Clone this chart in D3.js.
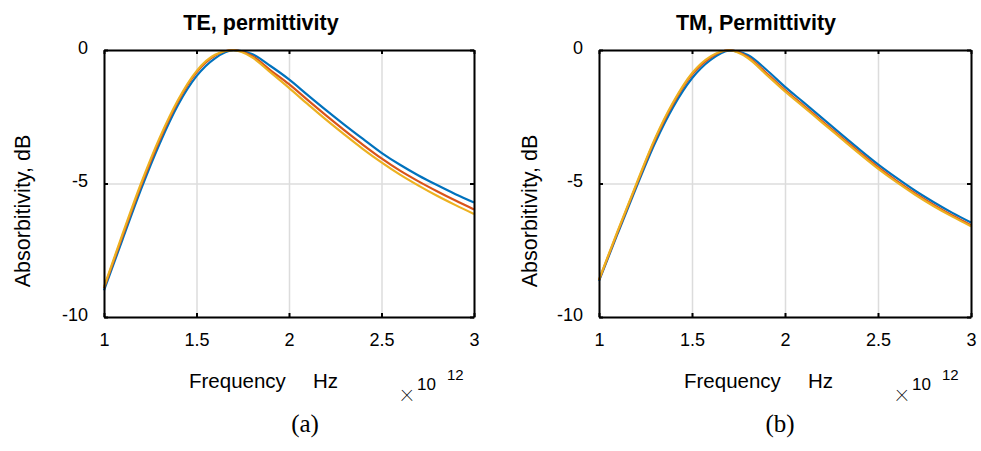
<!DOCTYPE html>
<html>
<head>
<meta charset="utf-8">
<script src="https://cdn.jsdelivr.net/npm/d3@7"></script>
<style>
    body { margin: 0; background: #fff; }
    svg { display: block; }
    text { font-family: "Liberation Sans", Arial, sans-serif; fill: #000; }
    .grid line { stroke: #dcdcdc; stroke-width: 1.5; }
    .grid path { display: none; }
    .frame path, .frame line { stroke: #000; stroke-width: 2; }
</style>
</head>
<body>
<svg id="chart"></svg>
<script>
// Frequency samples (x 10^12 Hz)
let freq = [1.0, 1.1, 1.2, 1.3, 1.4, 1.5, 1.6, 1.7, 1.8, 1.9, 2.0,
            2.1, 2.2, 2.3, 2.4, 2.5, 2.6, 2.7, 2.8, 2.9, 3.0];

// TE, permittivity (dB)
let teBlue   = [-9.0, -7.1, -5.22, -3.52, -2.06, -0.98, -0.31, -0.01, -0.15, -0.6, -1.1,
                -1.68, -2.25, -2.8, -3.33, -3.85, -4.3, -4.7, -5.06, -5.4, -5.71];
let teRed    = [-8.92, -6.97, -5.08, -3.38, -1.93, -0.84, -0.21, 0, -0.22, -0.76, -1.28,
                -1.87, -2.45, -3.01, -3.55, -4.06, -4.52, -4.92, -5.29, -5.64, -5.97];
let teOrange = [-8.87, -6.9, -5.0, -3.3, -1.87, -0.79, -0.18, -0.01, -0.27, -0.84, -1.42,
                -2.02, -2.61, -3.17, -3.71, -4.21, -4.67, -5.08, -5.46, -5.81, -6.14];

// TM, permittivity (dB)
let tmBlue   = [-8.65, -6.88, -5.15, -3.5, -2.12, -1.06, -0.37, -0.02, -0.19, -0.74, -1.38,
                -1.96, -2.55, -3.14, -3.72, -4.28, -4.79, -5.27, -5.7, -6.1, -6.46];
let tmRed    = [-8.62, -6.82, -5.07, -3.38, -1.99, -0.92, -0.28, 0, -0.26, -0.86, -1.5,
                -2.08, -2.67, -3.25, -3.83, -4.39, -4.9, -5.37, -5.8, -6.2, -6.56];
let tmOrange = [-8.6, -6.78, -5.03, -3.33, -1.94, -0.87, -0.24, -0.01, -0.3, -0.92, -1.55,
                -2.13, -2.72, -3.3, -3.88, -4.44, -4.95, -5.42, -5.85, -6.24, -6.6];

// Ticks and labels
let xTicks = [1, 1.5, 2, 2.5, 3];
let xTickLabels = ['1', '1.5', '2', '2.5', '3'];
let yTicks = [0, -5, -10];
let yTickLabels = ['0', '-5', '-10'];
let titles = ['TE, permittivity', 'TM, Permittivity'];
let captions = ['(a)', '(b)'];
let colors = ['#0072bd', '#d95319', '#edb120'];

// Canvas
let width = 981;
let height = 451;
let plotTop = 50;
let plotHeight = 267;

let svg = d3.select('#chart')
    .attr('width', width)
    .attr('height', height);

let panels = [
    { left: 104, w: 370, title: titles[0], caption: captions[0], capX: 305, yLabX: 30,
      series: [teBlue, teRed, teOrange] },
    { left: 599, w: 372, title: titles[1], caption: captions[1], capX: 780, yLabX: 537,
      series: [tmBlue, tmRed, tmOrange] }
];

let drawPanel = (p) => {
    let xScale = d3.scaleLinear().domain([1, 3]).range([0, p.w]);
    let yScale = d3.scaleLinear().domain([-10, 0]).range([plotHeight, 0]);

    let g = svg.append('g')
        .attr('transform', 'translate(' + p.left + ',' + plotTop + ')');

    // grid lines
    g.append('g')
        .attr('class', 'grid')
        .attr('transform', 'translate(0,' + plotHeight + ')')
        .call(d3.axisBottom(xScale).tickValues(xTicks).tickSize(-plotHeight).tickFormat(''));
    g.append('g')
        .attr('class', 'grid')
        .call(d3.axisLeft(yScale).tickValues(yTicks).tickSize(-p.w).tickFormat(''));

    // curves
    let line = d3.line()
        .x((d, i) => xScale(freq[i]))
        .y((d) => yScale(d))
        .curve(d3.curveMonotoneX);

    p.series.forEach((s, k) => {
        g.append('path')
            .datum(s)
            .attr('d', line)
            .attr('fill', 'none')
            .attr('stroke', colors[k])
            .attr('stroke-width', 2.2);
    });

    // box with inward ticks
    let xAxis = d3.axisBottom(xScale).tickValues(xTicks)
        .tickSizeInner(-4).tickSizeOuter(0).tickPadding(16)
        .tickFormat((d, i) => xTickLabels[i]);
    let yAxis = d3.axisLeft(yScale).tickValues(yTicks)
        .tickSizeInner(-4).tickSizeOuter(0).tickPadding(16)
        .tickFormat((d, i) => yTickLabels[i]);

    g.append('g')
        .attr('class', 'frame')
        .attr('transform', 'translate(0,' + plotHeight + ')')
        .call(xAxis)
        .selectAll('text')
        .style('font-size', '18px')
        .style('font-family', '"Liberation Sans", Arial, sans-serif');

    let ya = g.append('g')
        .attr('class', 'frame')
        .call(yAxis);
    ya.selectAll('text')
        .attr('dy', '0.17em')
        .style('font-size', '18px')
        .style('font-family', '"Liberation Sans", Arial, sans-serif');

    g.append('g')
        .attr('class', 'frame')
        .call(d3.axisTop(xScale).tickValues(xTicks).tickSizeInner(-4).tickSizeOuter(0).tickFormat(''));
    g.append('g')
        .attr('class', 'frame')
        .attr('transform', 'translate(' + p.w + ',0)')
        .call(d3.axisRight(yScale).tickValues(yTicks).tickSizeInner(-4).tickSizeOuter(0).tickFormat(''));

    // title
    svg.append('text')
        .attr('x', p.left + 157)
        .attr('y', 30)
        .attr('text-anchor', 'middle')
        .style('font-size', '21.5px')
        .style('font-weight', 'bold')
        .text(p.title);

    // y label
    svg.append('text')
        .attr('transform', 'translate(' + p.yLabX + ',211) rotate(-90)')
        .attr('text-anchor', 'middle')
        .style('font-size', '21.5px')
        .text('Absorbitivity, dB');

    // x label
    let xl = svg.append('text')
        .attr('x', p.left + 85)
        .attr('y', 388)
        .style('font-size', '20.5px')
        .text('Frequency');
    xl.append('tspan')
        .attr('x', p.left + 209)
        .text('Hz');

    // exponent (thin multiplication sign)
    svg.append('text')
        .attr('x', p.left + 303)
        .attr('y', 401)
        .attr('text-anchor', 'middle')
        .style('font-family', 'Roboto, Lato, sans-serif')
        .style('font-weight', 100)
        .style('font-size', '27px')
        .text('\u00d7');
    svg.append('text')
        .attr('x', p.left + 313)
        .attr('y', 390)
        .style('font-size', '17px')
        .text('10');
    svg.append('text')
        .attr('x', p.left + 343)
        .attr('y', 380)
        .style('font-size', '15px')
        .text('12');

    // caption
    svg.append('text')
        .attr('x', p.capX)
        .attr('y', 432)
        .attr('text-anchor', 'middle')
        .style('font-family', '"Liberation Serif", "Times New Roman", serif')
        .style('font-size', '25px')
        .text(p.caption);
};

panels.forEach(drawPanel);
</script>
</body>
</html>
